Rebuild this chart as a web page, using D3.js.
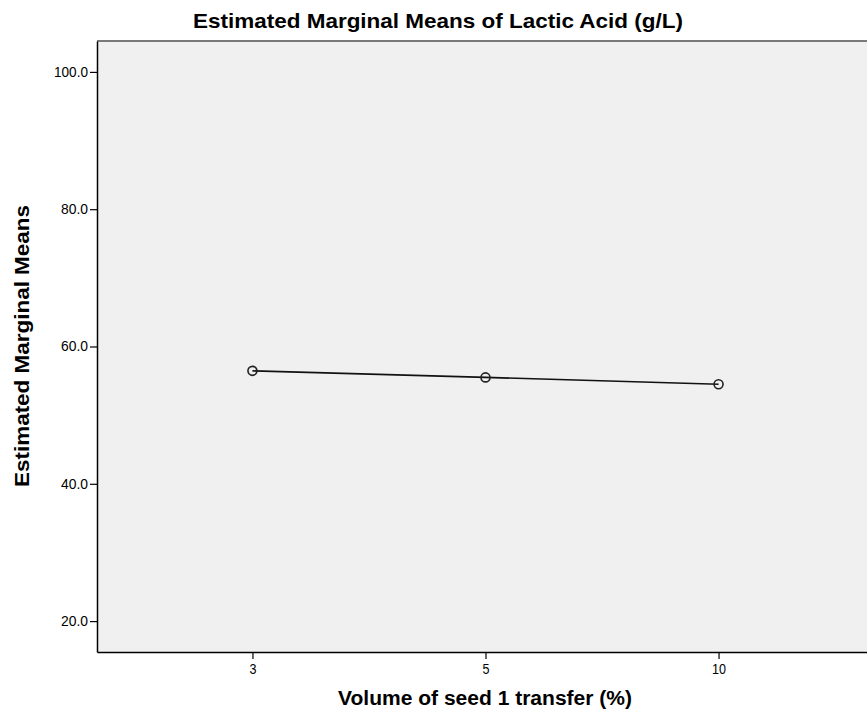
<!DOCTYPE html>
<html>
<head>
<meta charset="utf-8">
<script src="https://cdn.jsdelivr.net/npm/d3@7"></script>
<style>
  html, body { margin: 0; padding: 0; background: #ffffff; }
  svg { display: block; }
  text { font-family: "Liberation Sans", Arial, sans-serif; fill: #000; }
</style>
</head>
<body>
<svg id="chart" width="867" height="726"></svg>
<script>
const categories = ["3", "5", "10"];
const meanValues = [56.45, 55.5, 54.5];
const yTicks = [20, 40, 60, 80, 100];
const chartTitle = "Estimated Marginal Means of Lactic Acid (g/L)";
const xTitle = "Volume of seed 1 transfer (%)";
const yTitle = "Estimated Marginal Means";

const svg = d3.select("#chart");
const plot = { left: 97, top: 41, right: 874, bottom: 652 };

const x = d3.scalePoint().domain(categories).range([plot.left, plot.right]).padding(0.667);
const y = d3.scaleLinear().domain([15.5, 104.5]).range([plot.bottom, plot.top]);

svg.append("rect")
  .attr("x", plot.left).attr("y", plot.top)
  .attr("width", plot.right - plot.left).attr("height", plot.bottom - plot.top)
  .attr("fill", "#f0f0f0");

// top border (gray)
svg.append("line")
  .attr("x1", plot.left).attr("x2", plot.right)
  .attr("y1", plot.top).attr("y2", plot.top)
  .attr("stroke", "#7a7a7a").attr("stroke-width", 2);

// y axis
const yAxis = d3.axisLeft(y).tickValues(yTicks).tickFormat(d3.format(".1f")).tickSize(7).tickSizeOuter(0).tickPadding(2);
const gy = svg.append("g").attr("transform", `translate(${plot.left},0)`).call(yAxis);
gy.select(".domain").attr("stroke", "#000").attr("stroke-width", 1.5);
gy.selectAll(".tick line").attr("stroke", "#000").attr("stroke-width", 1.2);
gy.selectAll(".tick text").attr("font-size", 14).attr("font-family", "Liberation Sans, Arial").attr("fill", "#000")
  .attr("textLength", d => d >= 100 ? 34 : 27).attr("lengthAdjust", "spacingAndGlyphs");

// x axis
const xAxis = d3.axisBottom(x).tickSize(7).tickSizeOuter(0).tickPadding(5);
const gx = svg.append("g").attr("transform", `translate(0,${plot.bottom})`).call(xAxis);
gx.select(".domain").attr("stroke", "#000").attr("stroke-width", 1.5);
gx.selectAll(".tick line").attr("stroke", "#000").attr("stroke-width", 1.2);
gx.selectAll(".tick text").attr("font-size", 14).attr("font-family", "Liberation Sans, Arial").attr("fill", "#000")
  .attr("textLength", d => d.length > 1 ? 14 : 7).attr("lengthAdjust", "spacingAndGlyphs");

// line
const data = categories.map((c, i) => ({ c, v: meanValues[i] }));
svg.append("path")
  .datum(data)
  .attr("fill", "none")
  .attr("stroke", "#111")
  .attr("stroke-width", 1.6)
  .attr("d", d3.line().x(d => x(d.c)).y(d => y(d.v)));

svg.selectAll("circle.pt")
  .data(data)
  .join("circle")
  .attr("class", "pt")
  .attr("cx", d => x(d.c)).attr("cy", d => y(d.v))
  .attr("r", 4.5)
  .attr("fill", "none")
  .attr("stroke", "#222").attr("stroke-width", 1.6);

// titles
svg.append("text")
  .attr("x", 438).attr("y", 28)
  .attr("text-anchor", "middle")
  .attr("font-size", 21).attr("font-weight", "bold")
  .attr("textLength", 490).attr("lengthAdjust", "spacingAndGlyphs")
  .text(chartTitle);

svg.append("text")
  .attr("x", 485).attr("y", 705)
  .attr("text-anchor", "middle")
  .attr("font-size", 20).attr("font-weight", "bold")
  .attr("textLength", 294).attr("lengthAdjust", "spacingAndGlyphs")
  .text(xTitle);

svg.append("text")
  .attr("transform", `translate(29,346) rotate(-90)`)
  .attr("text-anchor", "middle")
  .attr("font-size", 20).attr("font-weight", "bold")
  .attr("textLength", 282).attr("lengthAdjust", "spacingAndGlyphs")
  .text(yTitle);
</script>
</body>
</html>
